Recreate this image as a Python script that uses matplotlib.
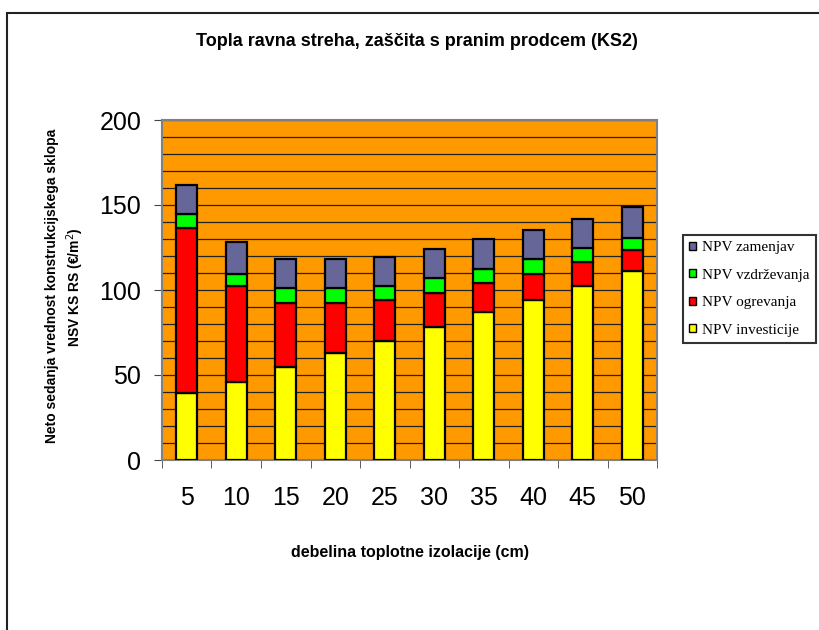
import matplotlib
matplotlib.use("Agg")
import matplotlib.pyplot as plt
import numpy as np
from matplotlib.patches import Rectangle
from matplotlib.ticker import MultipleLocator

# Insulation thickness categories (cm)
thickness = ["5", "10", "15", "20", "25", "30", "35", "40", "45", "50"]

# Net present value components (EUR/m2)
npv_investicije = [39.5, 46, 54.5, 63, 70, 78.5, 87, 94, 102.5, 111]
npv_ogrevanja = [97, 56.5, 38, 29.5, 24, 20, 17, 15.7, 14, 12.5]
npv_vzdrzevanja = [8.5, 7, 8.5, 8.5, 8.5, 8.3, 8.5, 8.3, 8.5, 7]
npv_zamenjav = [17, 18.5, 17, 17, 17, 17.2, 17.5, 17.3, 17, 18.5]

series_labels = ["NPV investicije", "NPV ogrevanja", "NPV vzdrževanja", "NPV zamenjav"]
series_colors = ["#FFFF00", "#FF0000", "#00FF00", "#666699"]

fig = plt.figure(figsize=(8.2, 6.3), dpi=100)
fig.patch.set_facecolor("white")

# Outer frame of the chart
W, H = 820, 630
frame = Rectangle((7 / W, -0.1), 1.2, 1.1 - 13 / H, transform=fig.transFigure,
                  fill=False, edgecolor="#222222", linewidth=1.5)
fig.patches.append(frame)

ax = fig.add_axes([162 / W, 1 - 460 / H, (657 - 162) / W, (460 - 120) / H])
ax.set_facecolor("#FF9900")

x = np.arange(len(thickness))
bottom = np.zeros(len(thickness))
handles = []
for vals, lab, col in zip([npv_investicije, npv_ogrevanja, npv_vzdrzevanja, npv_zamenjav],
                          series_labels, series_colors):
    b = ax.bar(x, vals, width=0.42, bottom=bottom, color=col, edgecolor="black",
               linewidth=1.6, label=lab, zorder=3)
    handles.append(b)
    bottom += np.array(vals)

ax.set_xlim(-0.5, len(thickness) - 0.5)
ax.set_ylim(0, 200)

# Horizontal grid every 10 units
ax.yaxis.set_minor_locator(MultipleLocator(10))
ax.yaxis.set_major_locator(MultipleLocator(50))
ax.grid(axis="y", which="both", color="#222222", linewidth=0.9, zorder=1)
ax.set_axisbelow(True)

ax.set_xticks(x)
ax.set_xticklabels(thickness)
ax.set_xticks(np.arange(len(thickness) + 1) - 0.5, minor=True)
ax.tick_params(axis="x", which="major", length=0, pad=19, labelsize=18)
ax.tick_params(axis="x", which="minor", length=6, direction="out", color="#444444")
ax.tick_params(axis="y", which="major", length=6, direction="out", pad=9,
               labelsize=18, color="#444444")
ax.tick_params(axis="y", which="minor", length=0)

for lbl in ax.get_xticklabels() + ax.get_yticklabels():
    lbl.set_fontfamily("Liberation Sans")

for s in ax.spines.values():
    s.set_color("#808080")
    s.set_linewidth(1.5)

fig.text(417 / W, 1 - 42 / H, "Topla ravna streha, zaščita s pranim prodcem (KS2)",
         ha="center", va="center", fontsize=13, fontweight="bold",
         family="Liberation Sans")
fig.text(410 / W, 1 - 553 / H, "debelina toplotne izolacije (cm)",
         ha="center", va="center", fontsize=11.5, fontweight="bold",
         family="Liberation Sans")
fig.text(52 / W, 1 - 286 / H, "Neto sedanja vrednost konstrukcijskega sklopa",
         ha="center", va="center", rotation=90, fontsize=10, fontweight="bold",
         family="Liberation Sans")
fig.text(75 / W, 1 - 287 / H, "NSV KS RS (€/m$^2$)",
         ha="center", va="center", rotation=90, fontsize=10, fontweight="bold",
         family="Liberation Sans")

leg = fig.legend(handles[::-1], series_labels[::-1], loc="center left",
                 bbox_to_anchor=(683 / W, 1 - 289 / H), borderaxespad=0,
                 frameon=True, fancybox=False,
                 edgecolor="black", prop={"family": "Liberation Serif", "size": 11},
                 handlelength=0.45, handleheight=0.45, handletextpad=0.35,
                 labelspacing=0.95, borderpad=0.42)
leg.get_frame().set_linewidth(1.5)
for h in leg.legend_handles:
    h.set_linewidth(1.0)

fig.savefig("out.png", dpi=100)
